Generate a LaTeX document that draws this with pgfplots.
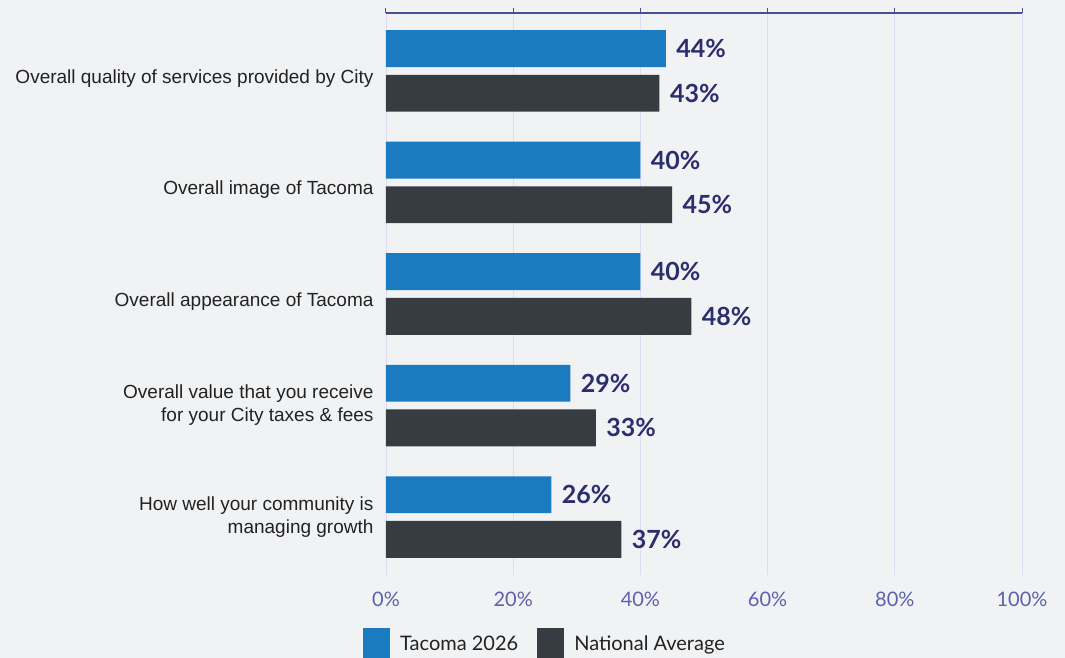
\documentclass[border=0pt]{standalone}
\usepackage{pgfplots}
\pgfplotsset{compat=1.18}
\usepackage{fontspec}
\setmainfont{Liberation Sans}
\newfontfamily\latofont{Lato}
\definecolor{bg}{HTML}{F1F2F4}
\definecolor{tacoma}{HTML}{1A7BC0}
\definecolor{natavg}{HTML}{373B42}
\definecolor{valcol}{HTML}{2B2D6E}
\definecolor{tickcol}{HTML}{5A62B0}
\definecolor{gridcol}{HTML}{DCDDF0}
\definecolor{axcol}{HTML}{4B4E8F}
\definecolor{labcol}{HTML}{222222}
\begin{document}
\begin{tikzpicture}
\fill[bg] (-386pt,-83pt) rectangle (679pt,575pt);
\begin{axis}[
  at={(0pt,0pt)}, anchor=south west,
  scale only axis, width=636pt, height=562pt,
  xmin=0, xmax=100, ymin=-0.52, ymax=4.52, y dir=reverse,
  xbar, bar width=0.331,
  axis line style={draw=none},
  xtick={0,20,40,60,80,100},
  xticklabel={\pgfmathprintnumber{\tick}\%},
  /pgf/number format/assume math mode=true,
  xticklabel style={font=\latofont\fontsize{20}{22}\selectfont, text=tickcol, yshift=-8pt},
  xtick pos=right, xticklabel pos=left,
  tick align=outside, major tick length=5pt,
  xtick style={draw=axcol, line width=1pt},
  xmajorgrids, grid style={draw=gridcol, line width=0.8pt},
  ytick={0,1,2,3,4},
  yticklabels={{\raisebox{-12.5pt}[0pt][0pt]{Overall quality of services provided by City}}, {\raisebox{-12.5pt}[0pt][0pt]{Overall image of Tacoma}}, {\raisebox{-12.5pt}[0pt][0pt]{Overall appearance of Tacoma}}, {Overall value that you receive\\for your City taxes \& fees}, {How well your community is\\managing growth}},
  yticklabel style={align=right, font=\fontsize{19}{23}\selectfont, text=labcol, xshift=-4pt},
  ytick style={draw=none},
  point meta=x,
  nodes near coords={\pgfmathprintnumber[fixed,precision=0]{\pgfplotspointmeta}\%},
  every node near coord/.append style={font=\latofont\bfseries\fontsize{25}{28}\selectfont, text=valcol, anchor=west, xshift=7pt},
  legend style={draw=none, fill=none, at={(0.25,-0.09)}, anchor=north, legend columns=2, font=\latofont\fontsize{20}{22}\selectfont, text=labcol, /tikz/every odd column/.append style={column sep=8pt}, /tikz/every even column/.append style={column sep=17pt}},
  legend cell align=left,
  legend image code/.code={\fill[#1] (0pt,-16pt) rectangle (27pt,16pt);},
]
\addplot[fill=tacoma, draw=none, bar shift=-0.2] coordinates {(44,0) (40,1) (40,2) (29,3) (26,4)};
\addlegendentry{Tacoma 2026}
\addplot[fill=natavg, draw=none, bar shift=0.2] coordinates {(43,0) (45,1) (48,2) (33,3) (37,4)};
\addlegendentry{National Average}
\draw[axcol, line width=1.2pt] (axis cs:0,-0.52) -- (axis cs:100,-0.52);
\end{axis}
\pgfresetboundingbox
\path (-386pt,-83pt) rectangle (679pt,575pt);
\end{tikzpicture}
\end{document}
